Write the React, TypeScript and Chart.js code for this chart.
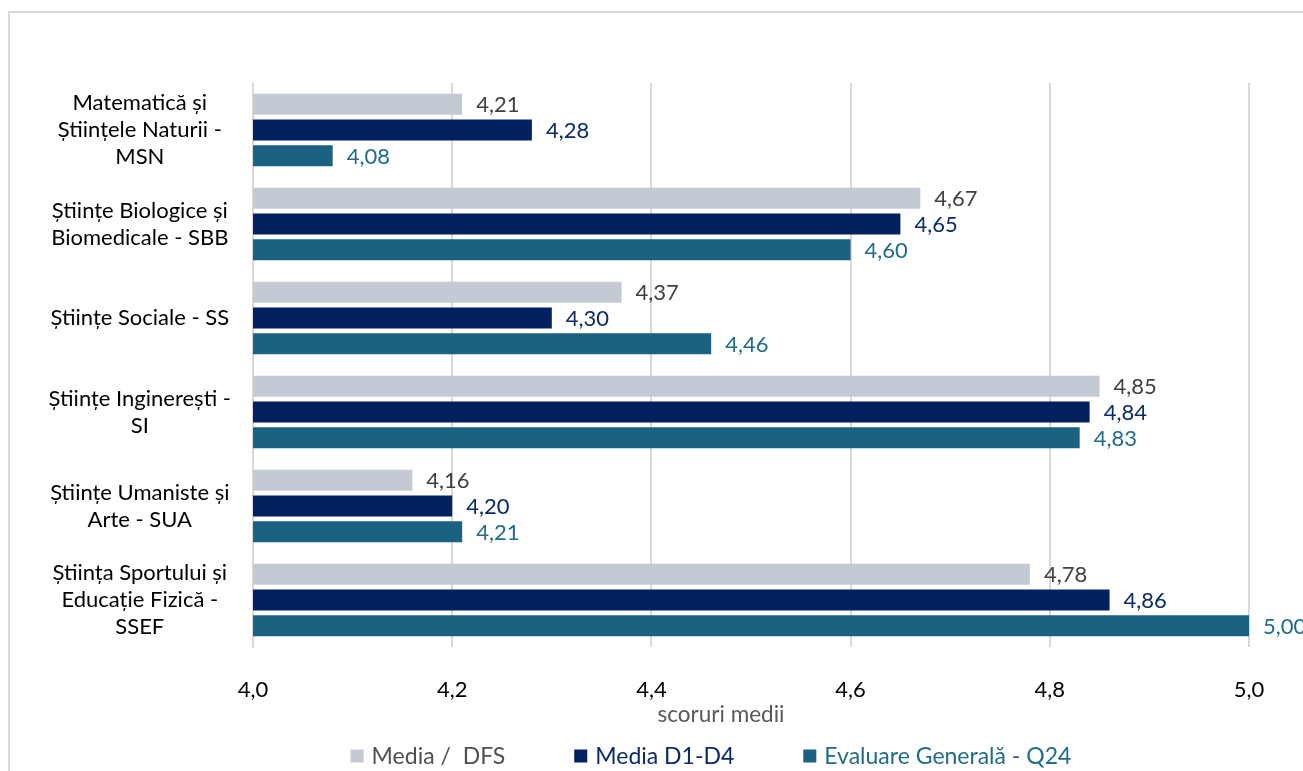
import React, { useEffect, useRef } from "react";
import { Chart, registerables } from "chart.js";

Chart.register(...registerables);

const categories: (string | string[])[] = [
  ["Matematică și", "Științele Naturii -", "MSN"],
  ["Științe Biologice și", "Biomedicale - SBB"],
  "Științe Sociale - SS",
  ["Științe Inginerești -", "SI"],
  ["Științe Umaniste și", "Arte - SUA"],
  ["Știința Sportului și", "Educație Fizică -", "SSEF"],
];

const mediaDFS = [4.21, 4.67, 4.37, 4.85, 4.16, 4.78];
const mediaD1D4 = [4.28, 4.65, 4.3, 4.84, 4.2, 4.86];
const evaluareQ24 = [4.08, 4.6, 4.46, 4.83, 4.21, 5.0];

const seriesNames = ["Media /  DFS", "Media D1-D4", "Evaluare Generală - Q24"];
const barColors = ["#C4CAD3", "#03205F", "#1A6182"];
const labelColors = ["#404040", "#0A2A6E", "#1F6B8C"];
const legendTextColors = ["#505050", "#0A2A6E", "#1F6B8C"];

const xMin = 4.0;
const xMax = 5.0;
const xStep = 0.2;
const xTitle = "scoruri medii";

const FONT = "Lato";

const fmt = (v: number, d: number) => v.toFixed(d).replace(".", ",");

export default function App() {
  const canvasRef = useRef<HTMLCanvasElement | null>(null);

  useEffect(() => {
    if (!canvasRef.current) return;

    const framePlugin = {
      id: "frame",
      beforeDraw(chart: any) {
        const ctx = chart.ctx;
        ctx.save();
        ctx.fillStyle = "#ffffff";
        ctx.fillRect(0, 0, chart.width, chart.height);
        ctx.strokeStyle = "#D9D9D9";
        ctx.lineWidth = 2;
        ctx.strokeRect(9, 12, 1400, 800);
        ctx.restore();
      },
    };

    const valueLabels = {
      id: "valueLabels",
      afterDatasetsDraw(chart: any) {
        const ctx = chart.ctx;
        chart.data.datasets.forEach((ds: any, i: number) => {
          const meta = chart.getDatasetMeta(i);
          meta.data.forEach((bar: any, j: number) => {
            const v = ds.data[j] as number;
            ctx.save();
            ctx.font = `22px ${FONT}`;
            ctx.fillStyle = labelColors[i];
            ctx.textAlign = "left";
            ctx.textBaseline = "middle";
            ctx.fillText(fmt(v, 2), bar.x + 14, bar.y + 1);
            ctx.restore();
          });
        });
      },
    };

    const titleAndLegend = {
      id: "titleAndLegend",
      afterDraw(chart: any) {
        const ctx = chart.ctx;
        ctx.save();
        // axis title
        ctx.font = `22.5px ${FONT}`;
        ctx.fillStyle = "#595959";
        ctx.textAlign = "center";
        ctx.textBaseline = "middle";
        ctx.fillText(xTitle, 721, 715);
        // legend
        ctx.font = `23px ${FONT}`;
        const box = 13;
        const boxGap = 8;
        const itemGap = 69;
        const widths = seriesNames.map((n) => ctx.measureText(n).width);
        const total =
          widths.reduce((a, b) => a + b, 0) +
          seriesNames.length * (box + boxGap) +
          (seriesNames.length - 1) * itemGap;
        let x = 711 - total / 2;
        const y = 756;
        seriesNames.forEach((n, i) => {
          ctx.fillStyle = barColors[i];
          ctx.fillRect(x, y - box / 2, box, box);
          x += box + boxGap;
          ctx.fillStyle = legendTextColors[i];
          ctx.textAlign = "left";
          ctx.textBaseline = "middle";
          ctx.fillText(n, x, y + 1);
          x += widths[i] + itemGap;
        });
        ctx.restore();
      },
    };

    const chart = new Chart(canvasRef.current, {
      type: "bar",
      data: {
        labels: categories,
        datasets: [
          { label: seriesNames[0], data: mediaDFS, backgroundColor: barColors[0] },
          { label: seriesNames[1], data: mediaD1D4, backgroundColor: barColors[1] },
          { label: seriesNames[2], data: evaluareQ24, backgroundColor: barColors[2] },
        ],
      },
      options: {
        indexAxis: "y",
        animation: false,
        responsive: true,
        maintainAspectRatio: false,
        layout: { padding: { top: 83, right: 54, bottom: 46, left: 0 } },
        datasets: {
          bar: { categoryPercentage: 0.82, barPercentage: 0.82 },
        },
        plugins: {
          legend: { display: false },
          tooltip: { enabled: false },
        },
        scales: {
          x: {
            type: "linear",
            min: xMin,
            max: xMax,
            ticks: {
              stepSize: xStep,
              padding: 30,
              color: "#000000",
              font: { family: FONT, size: 22 },
              callback: (v: any) => fmt(Number(v), 1),
            },
            grid: { color: "#D9D9D9", lineWidth: 2, drawTicks: false },
            border: { display: false },
            title: { display: false },
            afterFit: (scale: any) => {
              scale.height = 78;
            },
          },
          y: {
            type: "category",
            ticks: {
              color: "#000000",
              crossAlign: "center",
              padding: 22,
              font: { family: FONT, size: 22, lineHeight: 1.23 },
            },
            grid: { display: false, drawTicks: false },
            border: { display: true, color: "#D9D9D9", width: 1.5 },
            afterFit: (scale: any) => {
              scale.width = 253;
            },
          },
        },
      },
      plugins: [framePlugin, valueLabels, titleAndLegend],
    } as any);

    return () => chart.destroy();
  }, []);

  return (
    <div style={{ position: "absolute", left: 0, top: 0, width: 1303, height: 771 }}>
      <canvas ref={canvasRef} />
    </div>
  );
}
